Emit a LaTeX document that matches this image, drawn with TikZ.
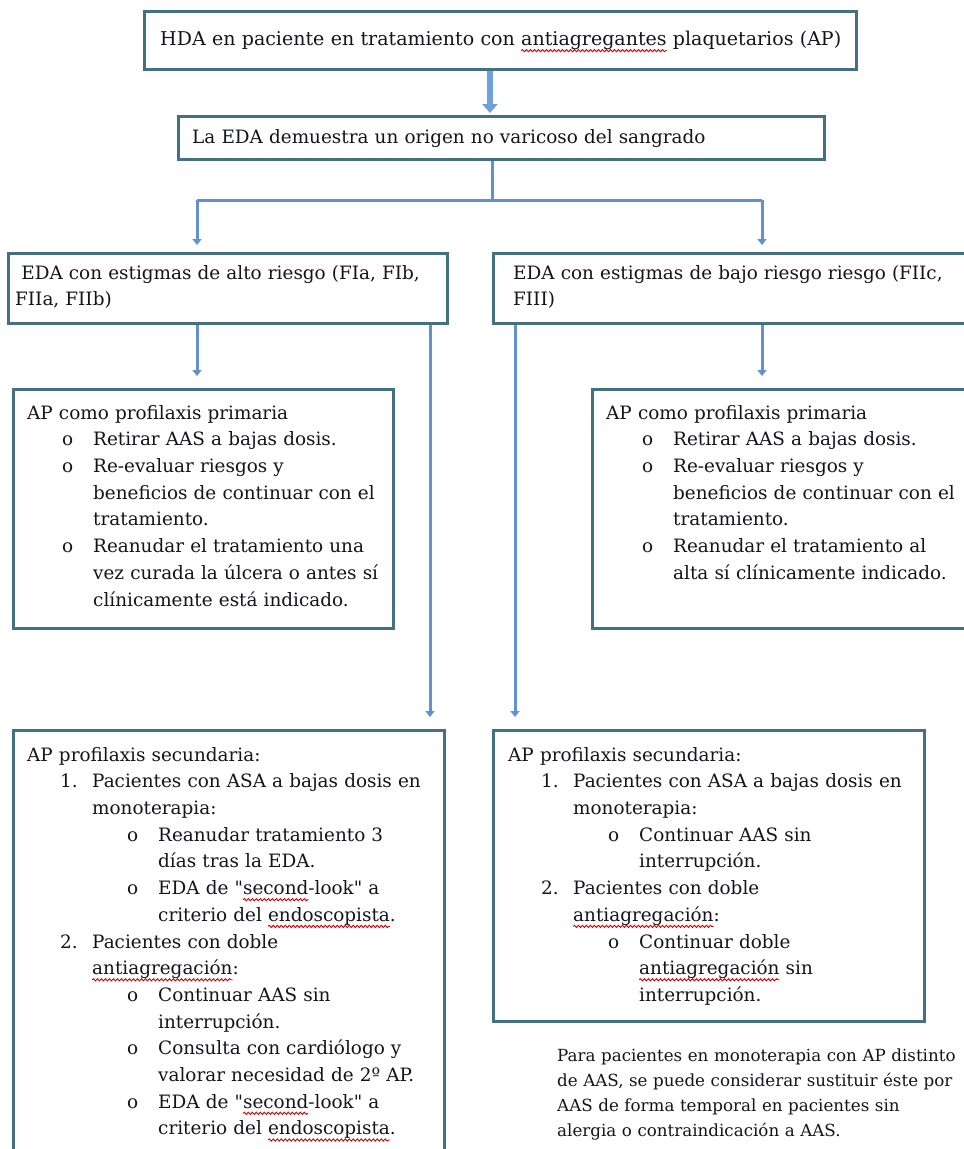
\documentclass[tikz,border=0pt]{standalone}
\usepackage{fontspec}
\setmainfont{DejaVu Serif}
\newfontface\qfont{DejaVu Serif}[Ligatures=TeXOff]
\usetikzlibrary{arrows.meta,decorations.pathmorphing}
\definecolor{boxc}{RGB}{68,112,130}
\definecolor{linec}{RGB}{98,146,206}
\definecolor{arrowc}{RGB}{110,160,220}
\definecolor{textc}{RGB}{20,20,30}
\newsavebox\spellbox
\newcommand\spell[1]{\sbox\spellbox{#1}\rlap{\tikz[overlay,baseline=0pt,x=1pt,y=1pt]\draw[red!85!black,line width=0.9pt,decorate,decoration={snake,amplitude=1.1pt,segment length=4pt}] (0,-5) -- (\the\wd\spellbox,-5);}#1}
\newcommand\qq{{\qfont\char34}}
\newcommand\Oi[2]{\hspace*{#1}\makebox[31pt][l]{o}#2}
\newcommand\Ni[3]{\hspace*{#1}\makebox[32pt][l]{#2}#3}
\newcommand\Ci[2]{\hspace*{#1}#2}
\begin{document}
\begin{tikzpicture}[x=1pt,y=-1pt,
  box/.style={draw=boxc, line width=2.5pt, fill=white, inner sep=0pt, anchor=north west},
  txt/.style={inner sep=0pt, anchor=north west, align=left, text width=440pt, text=textc,
    font=\fontsize{18.4}{26.7}\selectfont},
  notetxt/.style={inner sep=0pt, anchor=north west, align=left, text width=420pt, text=textc,
    font=\fontsize{16.7}{24.8}\selectfont},
  conn/.style={draw=linec, line width=3pt},
  tip/.style={-{Triangle[width=9pt,length=6pt]}},
  bigarrow/.style={draw=arrowc, line width=6pt, -{Triangle[width=15pt,length=9pt]}}]
\fill[white] (0,0) rectangle (964,1149);
\useasboundingbox (0,0) rectangle (964,1149);

% boxes
\node[box, minimum width=712pt, minimum height=58pt] (b1) at (143,10) {};
\node[box, minimum width=646pt, minimum height=43pt] (b2) at (177,115) {};
\node[box, minimum width=439pt, minimum height=70pt] (b3) at (7,252) {};
\node[box, minimum width=480pt, minimum height=70pt] (b4) at (492,252) {};
\node[box, minimum width=380pt, minimum height=239pt] (b5) at (12,388) {};
\node[box, minimum width=380pt, minimum height=239pt] (b6) at (591,388) {};
\node[box, minimum width=431pt, minimum height=430pt] (b7) at (12,729) {};
\node[box, minimum width=431pt, minimum height=291pt] (b8) at (492,729) {};

% texts
\node[txt, text width=700pt, font=\fontsize{19}{26.7}\selectfont] (t1) at (160,31) {HDA en paciente en tratamiento con \spell{antiagregantes} plaquetarios (AP)};
\node[txt, text width=620pt] (t2) at (192,129) {La EDA demuestra un origen no varicoso del sangrado};
\node[txt] (t3) at (15,265) {\ EDA con estigmas de alto riesgo (FIa, FIb,\\FIIa, FIIb)};
\node[txt] (t4) at (513,265) {EDA con estigmas de bajo riesgo riesgo (FIIc,\\FIII)};

\node[txt] (t5) at (27,405) {AP como profilaxis primaria\\
\Oi{35pt}{Retirar AAS a bajas dosis.}\\
\Oi{35pt}{Re-evaluar riesgos y}\\
\Ci{66pt}{beneficios de continuar con el}\\
\Ci{66pt}{tratamiento.}\\
\Oi{35pt}{Reanudar el tratamiento una}\\
\Ci{66pt}{vez curada la úlcera o antes sí}\\
\Ci{66pt}{clínicamente está indicado.}};

\node[txt] (t6) at (606,405) {AP como profilaxis primaria\\
\Oi{36pt}{Retirar AAS a bajas dosis.}\\
\Oi{36pt}{Re-evaluar riesgos y}\\
\Ci{67pt}{beneficios de continuar con el}\\
\Ci{67pt}{tratamiento.}\\
\Oi{36pt}{Reanudar el tratamiento al}\\
\Ci{67pt}{alta sí clínicamente indicado.}};

\node[txt] (t7) at (27,747) {AP profilaxis secundaria:\\
\Ni{33pt}{1.}{Pacientes con ASA a bajas dosis en}\\
\Ci{65pt}{monoterapia:}\\
\Oi{100pt}{Reanudar tratamiento 3}\\
\Ci{131pt}{días tras la EDA.}\\
\Oi{100pt}{EDA de \qq\spell{second}-look\qq{} a}\\
\Ci{131pt}{criterio del \spell{endoscopista}.}\\
\Ni{33pt}{2.}{Pacientes con doble}\\
\Ci{65pt}{\spell{antiagregación}:}\\
\Oi{100pt}{Continuar AAS sin}\\
\Ci{131pt}{interrupción.}\\
\Oi{100pt}{Consulta con cardiólogo y}\\
\Ci{131pt}{valorar necesidad de 2º AP.}\\
\Oi{100pt}{EDA de \qq\spell{second}-look\qq{} a}\\
\Ci{131pt}{criterio del \spell{endoscopista}.}};

\node[txt] (t8) at (508,747) {AP profilaxis secundaria:\\
\Ni{33pt}{1.}{Pacientes con ASA a bajas dosis en}\\
\Ci{65pt}{monoterapia:}\\
\Oi{100pt}{Continuar AAS sin}\\
\Ci{131pt}{interrupción.}\\
\Ni{33pt}{2.}{Pacientes con doble}\\
\Ci{65pt}{\spell{antiagregación}:}\\
\Oi{100pt}{Continuar doble}\\
\Ci{131pt}{\spell{antiagregación} sin}\\
\Ci{131pt}{interrupción.}};

\node[notetxt] (n1) at (557,1049) {Para pacientes en monoterapia con AP distinto\\
de AAS, se puede considerar sustituir éste por\\
AAS de forma temporal en pacientes sin\\
alergia o contraindicación a AAS.};

% connector coordinates
\coordinate (xA) at (490,0);
\coordinate (xB) at (492,0);
\coordinate (xL) at (197,0);
\coordinate (xR) at (762,0);
\coordinate (xLL) at (430,0);
\coordinate (xRR) at (515,0);
\coordinate (ys) at (0,200);

\draw[bigarrow, shorten >=2pt] (b1.south -| xA) -- (b2.north -| xA);
\draw[conn] (b2.south -| xB) -- (xB |- ys);
\draw[conn] (xL |- ys) -- (xR |- ys);
\draw[conn, tip, shorten >=7pt] (xL |- ys) -- (b3.north -| xL);
\draw[conn, tip, shorten >=7pt] (xR |- ys) -- (b4.north -| xR);
\draw[conn, tip, shorten >=12pt] (b3.south -| xL) -- (b5.north -| xL);
\draw[conn, tip, shorten >=12pt] (b3.south -| xLL) -- (b7.north -| xLL);
\draw[conn, tip, shorten >=12pt] (b4.south -| xRR) -- (b8.north -| xRR);
\draw[conn, tip, shorten >=12pt] (b4.south -| xR) -- (b6.north -| xR);
\end{tikzpicture}
\end{document}
